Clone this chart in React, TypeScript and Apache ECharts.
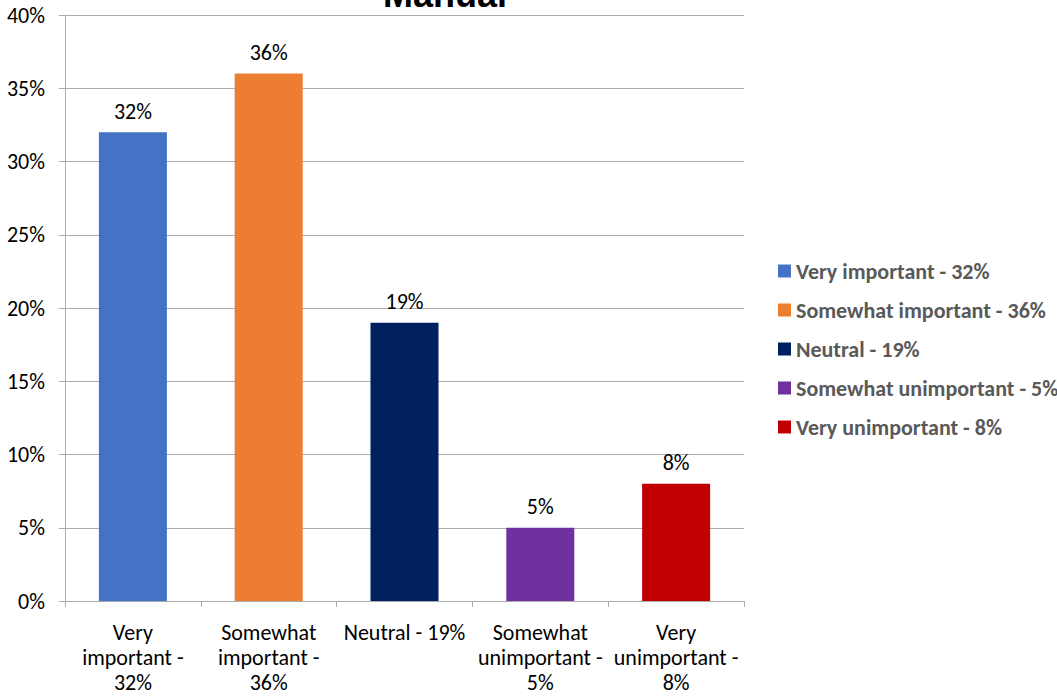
import React, { useEffect, useRef } from "react";
import * as echarts from "echarts";

const categories = [
  "Very important - 32%",
  "Somewhat important - 36%",
  "Neutral - 19%",
  "Somewhat unimportant - 5%",
  "Very unimportant - 8%",
];
const tickLabels = [
  "Very\nimportant -\n32%",
  "Somewhat\nimportant -\n36%",
  "Neutral - 19%",
  "Somewhat\nunimportant -\n5%",
  "Very\nunimportant -\n8%",
];
const values = [32, 36, 19, 5, 8];
const colors = ["#4472C4", "#ED7D31", "#002060", "#7030A0", "#C00000"];
const yTicks = [0, 5, 10, 15, 20, 25, 30, 35, 40];
const title = "Manual";

export default function App() {
  const ref = useRef<HTMLDivElement>(null);
  useEffect(() => {
    if (!ref.current) return;
    const chart = echarts.init(ref.current, null, { renderer: "svg" });
    const font = "Calibri, Carlito, 'Open Sans', 'Liberation Sans', sans-serif";
    const series = categories.map((name, i) => ({
      name,
      type: "bar",
      stack: "all",
      barWidth: 68,
      itemStyle: { color: colors[i] },
      data: values.map((v, j) => (j === i ? v : null)),
      label: {
        show: true,
        position: "top",
        distance: 10,
        formatter: (p: any) => `${p.value}%`,
        color: "#000",
        fontSize: 22,
        fontFamily: font,
      },
    }));
    chart.setOption({
      animation: false,
      backgroundColor: "#fff",
      grid: { left: 65, right: 313, top: 15, bottom: 95, containLabel: false },
      graphic: [
        {
          type: "text",
          x: 445,
          y: -5.5,
          style: {
            text: title,
            font: "bold 36px 'Liberation Sans', Arial, sans-serif",
            fill: "#000",
            align: "center",
            verticalAlign: "middle",
          },
        },
      ],
      legend: {
        orient: "vertical",
        left: 778,
        top: 260,
        padding: 0,
        itemWidth: 13,
        itemHeight: 13,
        itemGap: 17,
        itemTextGap: 5,
        icon: "rect",
        data: categories,
        textStyle: {
          color: "#595959",
          fontSize: 22,
          fontWeight: "bold",
          fontFamily: font,
          padding: 0,
        },
      },
      xAxis: {
        type: "category",
        data: categories,
        axisLine: { show: true, lineStyle: { color: "#ababab" } },
        axisTick: { show: true, length: 6, lineStyle: { color: "#ababab" } },
        axisLabel: {
          interval: 0,
          margin: 18.5,
          lineHeight: 25,
          fontSize: 22,
          color: "#000",
          fontFamily: font,
          formatter: (_v: string, idx: number) => tickLabels[idx],
        },
      },
      yAxis: {
        type: "value",
        min: 0,
        max: 40,
        interval: 5,
        axisLine: { show: true, lineStyle: { color: "#ababab" } },
        axisTick: { show: true, length: 6, lineStyle: { color: "#ababab" } },
        splitLine: { show: true, lineStyle: { color: "#ababab" } },
        axisLabel: {
          margin: 20,
          fontSize: 22,
          color: "#000",
          fontFamily: font,
          formatter: (v: number) => (yTicks.includes(v) ? `${v}%` : ""),
        },
      },
      series,
    });
    return () => chart.dispose();
  }, []);
  return (
    <div
      ref={ref}
      style={{ position: "fixed", left: 0, top: 0, width: 1057, height: 696 }}
    />
  );
}
